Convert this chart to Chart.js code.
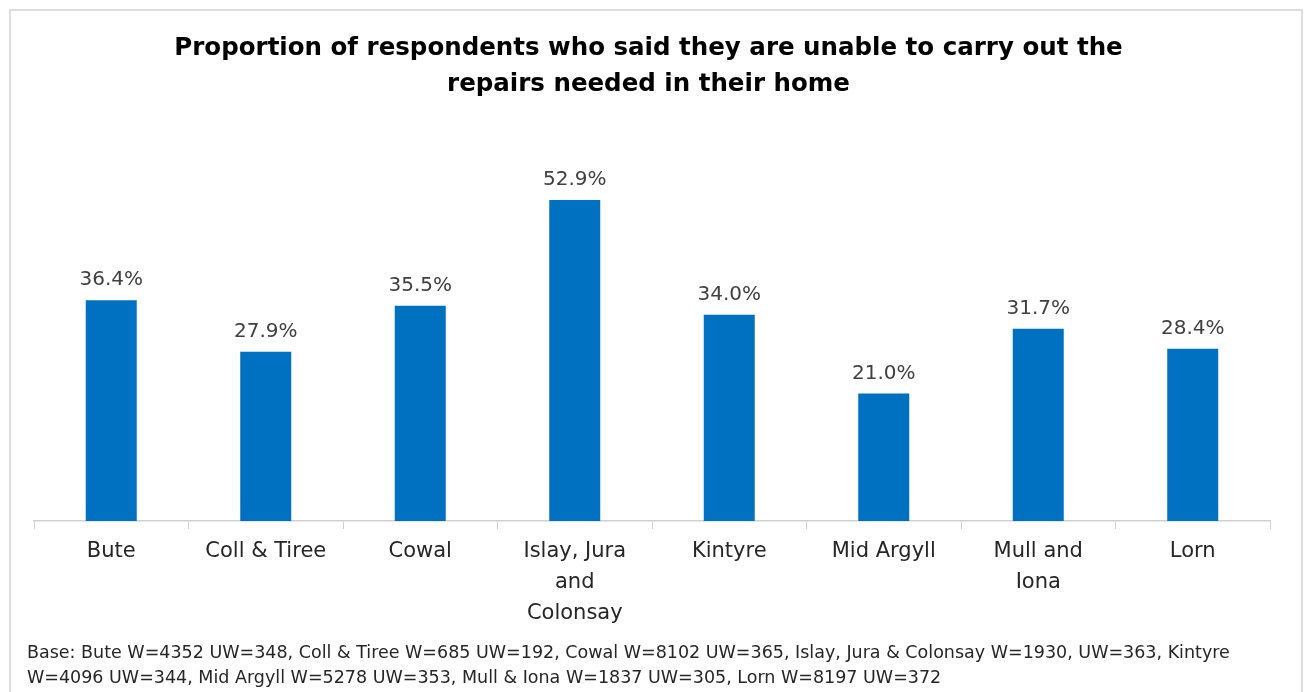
<!DOCTYPE html>
<html>
<head>
<meta charset="utf-8">
<script src="https://cdn.jsdelivr.net/npm/chart.js@4.4.1/dist/chart.umd.min.js"></script>
<style>
  html, body { margin: 0; padding: 0; background: #ffffff; overflow: hidden; }
  #frame { position: absolute; left: 9px; top: 9px; width: 1290px; height: 700px; border: 2px solid #dedede; }
  #wrap { position: absolute; left: 0; top: 0; width: 1305px; height: 692px; }
</style>
</head>
<body>
<div id="frame"></div>
<div id="wrap"><canvas id="chart_panel" width="1305" height="692"></canvas></div>
<script>
const chartTitle = ['Proportion of respondents who said they are unable to carry out the', 'repairs needed in their home'];
const areas = ['Bute', 'Coll & Tiree', 'Cowal', ['Islay, Jura', 'and', 'Colonsay'], 'Kintyre', 'Mid Argyll', ['Mull and', 'Iona'], 'Lorn'];
const unableShare = [36.4, 27.9, 35.5, 52.9, 34.0, 21.0, 31.7, 28.4];
const baseNote = [
    'Base: Bute W=4352 UW=348, Coll & Tiree W=685 UW=192, Cowal W=8102 UW=365, Islay, Jura & Colonsay W=1930, UW=363, Kintyre',
    'W=4096 UW=344, Mid Argyll W=5278 UW=353, Mull & Iona W=1837 UW=305, Lorn W=8197 UW=372'
];

const FONT = '"DejaVu Sans", sans-serif';

// draws the percentage above each bar
const barLabels = {
    id: 'barLabels',
    afterDatasetsDraw(chart) {
        const ctx = chart.ctx;
        const meta = chart.getDatasetMeta(0);
        ctx.save();
        ctx.font = '20px ' + FONT;
        ctx.fillStyle = '#404040';
        ctx.textAlign = 'center';
        ctx.textBaseline = 'bottom';
        meta.data.forEach((bar, i) => {
            ctx.fillText(unableShare[i].toFixed(1) + '%', bar.x, bar.y - 10);
        });
        ctx.restore();
    }
};

new Chart(document.getElementById('chart_panel'), {
    type: 'bar',
    data: {
        labels: areas,
        datasets: [{
            data: unableShare,
            backgroundColor: '#0070c0',
            categoryPercentage: 1,
            barPercentage: 0.33,
        }],
    },
    options: {
        responsive: false,
        animation: false,
        devicePixelRatio: 1,
        layout: { padding: { left: 27, right: 35, top: 0, bottom: 0 } },
        plugins: {
            legend: { display: false },
            tooltip: { enabled: false },
            title: {
                display: true,
                text: chartTitle,
                color: '#000000',
                font: { family: FONT, size: 24.5, weight: 'bold', lineHeight: 1.47 },
                padding: { top: 31, bottom: 54 },
            },
            subtitle: {
                display: true,
                position: 'bottom',
                align: 'start',
                text: baseNote,
                color: '#262626',
                font: { family: FONT, size: 17.5, lineHeight: 1.4286 },
                padding: { top: 5, bottom: 1 },
            },
        },
        scales: {
            x: {
                grid: { display: true, drawOnChartArea: false, tickLength: 8, color: '#d0d0d0' },
                border: { display: true, color: '#d0d0d0', width: 1.5 },
                ticks: { color: '#262626', padding: 7, maxRotation: 0, autoSkip: false,
                         font: { family: FONT, size: 21, lineHeight: 1.476 } },
            },
            y: {
                min: 0,
                max: 60,
                display: true,
                grid: { display: false },
                border: { display: false },
                ticks: { display: false },
                afterFit(scale) { scale.width = 7; },
            },
        },
    },
    plugins: [barLabels],
});
</script>
</body>
</html>
